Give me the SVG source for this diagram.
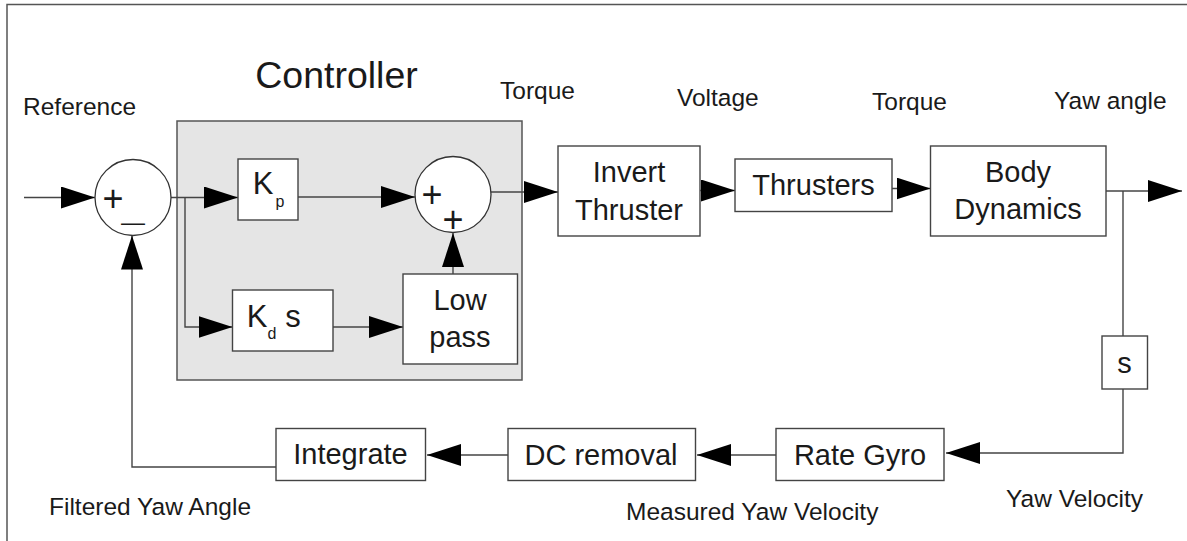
<svg xmlns="http://www.w3.org/2000/svg" width="1187" height="541" viewBox="0 0 1187 541">
<style>
text{font-family:"Liberation Sans",Arial,Helvetica,sans-serif;fill:#1a1a1a}
.lbl{font-size:24.5px}
.blk{font-size:29px;text-anchor:middle}
.sgn{font-size:36px;text-anchor:middle}
.box{fill:#fff;stroke:#444;stroke-width:1.4}
.sum{fill:#fff;stroke:#333;stroke-width:1.3}
.wire{fill:none;stroke:#444;stroke-width:1.4}
.arr{marker-end:url(#ah)}
</style>
<defs>
<marker id="ah" markerUnits="userSpaceOnUse" markerWidth="34" markerHeight="22" refX="34" refY="11" orient="auto" viewBox="0 0 34 22">
<path d="M0,0 L34,11 L0,22 z" fill="#000"/>
</marker>
</defs>
<rect width="1187" height="541" fill="#fff"/>
<path d="M7,541 V4.5 H1187" fill="none" stroke="#555" stroke-width="1.5"/>

<g id="controller">
<rect x="177" y="121" width="345" height="259" fill="#e5e5e5" stroke="#555" stroke-width="1.5"/>
<text x="336.5" y="87.5" style="font-size:37.5px;text-anchor:middle">Controller</text>
</g>

<g id="labels">
<text class="lbl" x="23" y="115">Reference</text>
<text class="lbl" x="500" y="98.5">Torque</text>
<text class="lbl" x="677" y="106">Voltage</text>
<text class="lbl" x="872" y="109.5">Torque</text>
<text class="lbl" x="1054" y="108.5">Yaw angle</text>
<text class="lbl" x="49" y="515">Filtered Yaw Angle</text>
<text class="lbl" x="626" y="520">Measured Yaw Velocity</text>
<text class="lbl" x="1006" y="506.5">Yaw Velocity</text>
</g>

<g id="connectors">
<path class="wire arr" d="M24,197.5 H95"/>
<path class="wire arr" d="M171,197.5 H238"/>
<path class="wire arr" d="M185,197.5 V327 H232.5"/>
<path class="wire arr" d="M298,197 H415"/>
<path class="wire arr" d="M333,327 H403"/>
<path class="wire arr" d="M453,274 V233"/>
<path class="wire arr" d="M491,192 H558"/>
<path class="wire arr" d="M700,190.5 H735"/>
<path class="wire arr" d="M892,188.5 H930.5"/>
<path class="wire arr" d="M1106,191 H1182"/>
<path class="wire" d="M1123,191 V336"/>
<path class="wire arr" d="M1123,389 V453 H946"/>
<path class="wire arr" d="M776,455 H697"/>
<path class="wire arr" d="M508,455 H427"/>
<path class="wire arr" d="M276,467 H132 V235.5"/>
</g>

<g id="sum1">
<circle class="sum" cx="133" cy="197.5" r="38"/>
<text class="sgn" x="113" y="210.5">+</text>
<text x="133" y="229.5" style="font-size:24px;text-anchor:middle">—</text>
</g>

<g id="kp">
<rect class="box" x="238" y="159" width="60" height="61"/>
<text x="263" y="193.5" style="font-size:31px;text-anchor:middle">K</text>
<text x="280" y="207" style="font-size:16px;text-anchor:middle">p</text>
</g>

<g id="kd">
<rect class="box" x="232.5" y="290" width="100.5" height="61"/>
<text x="257" y="327" style="font-size:31px;text-anchor:middle">K</text>
<text x="272" y="339" style="font-size:16px;text-anchor:middle">d</text>
<text x="293" y="327" style="font-size:31px;text-anchor:middle">s</text>
</g>

<g id="sum2">
<circle class="sum" cx="453" cy="194.5" r="38"/>
<text class="sgn" x="432" y="207">+</text>
<text class="sgn" x="453" y="232">+</text>
</g>

<g id="lowpass">
<rect class="box" x="403" y="274" width="114.5" height="90"/>
<text class="blk" x="460" y="310">Low</text>
<text class="blk" x="460" y="346.5">pass</text>
</g>

<g id="invert">
<rect class="box" x="558" y="146" width="142" height="90"/>
<text class="blk" x="629" y="182">Invert</text>
<text class="blk" x="629" y="219.5">Thruster</text>
</g>

<g id="thrusters">
<rect class="box" x="735" y="159" width="157" height="52.5"/>
<text class="blk" x="813.5" y="195">Thrusters</text>
</g>

<g id="body">
<rect class="box" x="930.5" y="146" width="175.5" height="90"/>
<text class="blk" x="1018" y="182">Body</text>
<text class="blk" x="1018" y="218.5">Dynamics</text>
</g>

<g id="s">
<rect class="box" x="1102" y="336" width="45.5" height="53"/>
<text class="blk" x="1124.5" y="372.5">s</text>
</g>

<g id="rategyro">
<rect class="box" x="776" y="428.5" width="168" height="52"/>
<text class="blk" x="860" y="464.5">Rate Gyro</text>
</g>

<g id="dcremoval">
<rect class="box" x="508" y="428.5" width="187.5" height="52"/>
<text class="blk" x="601" y="464.5">DC removal</text>
</g>

<g id="integrate">
<rect class="box" x="276" y="428.5" width="149.5" height="52"/>
<text class="blk" x="350.5" y="463.5">Integrate</text>
</g>
</svg>
